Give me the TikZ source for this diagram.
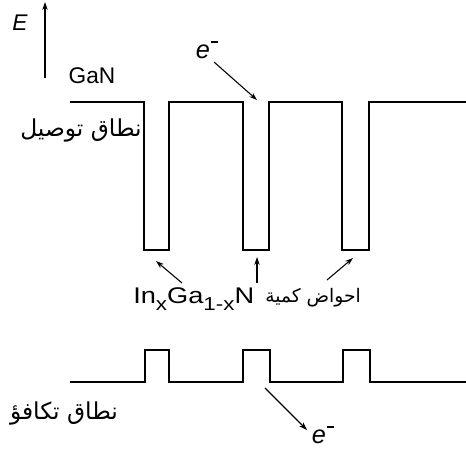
\documentclass[tikz,border=0pt]{standalone}
\usepackage{fontspec}
\setmainfont{Liberation Sans}
\newfontfamily\arabicfont[Script=Arabic]{DejaVu Sans}
\TeXXeTstate=1
\usetikzlibrary{arrows.meta}
\newcommand{\lsub}[1]{\raisebox{-0.28em}{\fontsize{14}{16}\selectfont #1}}
\newcommand{\elec}{\textit{e}\kern0.05em\raisebox{0.62em}{\rule{0.28em}{0.06em}}}
\tikzset{
  band/.style={line width=1.3pt, line join=miter},
  lbl/.style={inner sep=0pt, font=\fontsize{17}{20}\selectfont},
  elbl/.style={inner sep=0pt, font=\fontsize{19}{22}\selectfont},
  albl/.style={inner sep=0pt, font=\arabicfont\fontsize{17.5}{20}\selectfont},
  pointer/.style={line width=0.8pt, -{Stealth[length=6pt,width=4pt]}}
}
\begin{document}
\begin{tikzpicture}[x=0.75pt,y=-0.75pt]
\useasboundingbox (0,0) rectangle (466,449);
% energy axis
\coordinate (axb) at (45,78);
\coordinate (axt) at (45,2);
\draw[pointer] (axb) -- (axt);
\node[lbl] (E) at (20,23) {\textit{E}};
\node[lbl] (gan) at (92,76) {GaN};
\node[albl] (cb) at (81,130) {\beginR نطاق توصيل\endR};
% conduction band
\draw[band] (70,102) -- (144,102) -- (144,250) -- (169,250) -- (169,102)
  -- (243,102) -- (243,250) -- (269,250) -- (269,102)
  -- (342,102) -- (342,250) -- (369,250) -- (369,102) -- (466,102);
% valence band
\draw[band] (70,382) -- (145,382) -- (145,350) -- (169,350) -- (169,382)
  -- (243,382) -- (243,350) -- (270,350) -- (270,382)
  -- (343,382) -- (343,350) -- (370,350) -- (370,382) -- (466,382);
% electron top
\node[elbl] (etop) at (207,50) {\elec};
\coordinate (etops) at (214,62);
\coordinate (etopt) at (257,100);
\draw[pointer] (etops) -- (etopt);
% quantum wells label
\node[lbl, anchor=west] (ingan) at (133,299) {\scalebox{1.2}[1]{In\lsub{x}Ga\lsub{1-x}N}};
\node[albl, font=\arabicfont\fontsize{14}{18}\selectfont, anchor=east] (qw) at (361,298) {\beginR احواض كمية\endR};
\coordinate (w1s) at (182,283); \coordinate (w1t) at (156,261);
\coordinate (w2s) at (257,283); \coordinate (w2t) at (257,257);
\coordinate (w3s) at (327,280); \coordinate (w3t) at (353,258);
\draw[pointer] (w1s) -- (w1t);
\draw[pointer] (w2s) -- (w2t);
\draw[pointer] (w3s) -- (w3t);
% valence label
\node[albl] (vb) at (64,413) {\beginR نطاق تكافؤ\endR};
% electron bottom
\node[elbl] (ebot) at (323,435) {\elec};
\coordinate (ebs) at (265,388);
\coordinate (ebt) at (307,430);
\draw[pointer] (ebs) -- (ebt);
\end{tikzpicture}
\end{document}
